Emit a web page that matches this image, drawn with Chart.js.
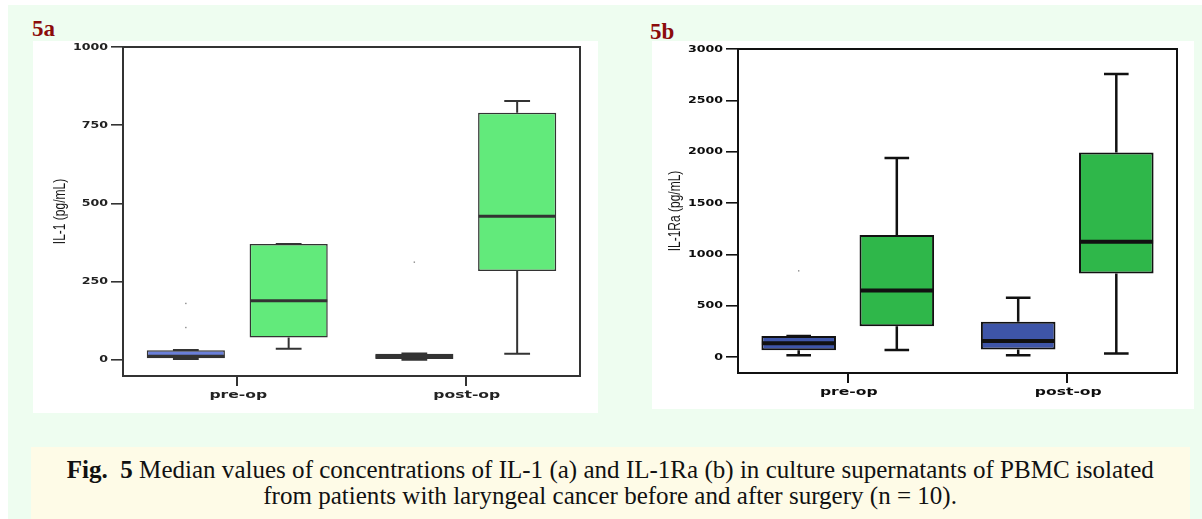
<!DOCTYPE html>
<html>
<head>
<meta charset="utf-8">
<script src="https://cdn.jsdelivr.net/npm/chart.js@4.4.1/dist/chart.umd.min.js"></script>
<style>
  html, body { margin: 0; padding: 0; width: 1202px; height: 519px; overflow: hidden; background: #ffffff; }
  #sheet { position: absolute; left: 8px; top: 5px; width: 1194px; height: 514px; background: #eefdf0; }
  .panel { position: absolute; background: #ffffff; }
  #panelA { left: 33px; top: 41px; width: 565px; height: 372px; }
  #panelB { left: 652px; top: 41px; width: 542px; height: 368px; }
  .tag { position: absolute; font: bold 23px/23px "Liberation Serif", "Times New Roman", serif; color: #8b0b0b; }
  #caption { position: absolute; left: 31px; top: 447px; width: 1159px; height: 72px; background: #fefbe7; }
  .capline { position: absolute; left: 0; width: 1159px; text-align: center; white-space: nowrap;
             font: 26px/26px "Liberation Serif", "Times New Roman", serif; color: #111; }
  .capline span.inner { display: inline-block; transform-origin: 50% 50%; }
</style>
</head>
<body>
<div id="sheet"></div>
<div class="tag" style="left:32px;top:17px;">5a</div>
<div class="tag" style="left:650px;top:20px;">5b</div>
<div id="panelA" class="panel"><canvas id="chartA" width="565" height="372"></canvas></div>
<div id="panelB" class="panel"><canvas id="chartB" width="542" height="368"></canvas></div>
<div id="caption">
  <div class="capline" style="top:10px;"><span class="inner"><b>Fig.&nbsp; 5</b> Median values of concentrations of IL-1 (a) and IL-1Ra (b) in culture supernatants of PBMC isolated</span></div>
  <div class="capline" style="top:36px;"><span class="inner">from patients with laryngeal cancer before and after surgery (n = 10).</span></div>
</div>
<script>
// Categories shared by both panels
const categories = ['pre-op', 'post-op'];

// Panel a: IL-1 (pg/mL), five-number summaries per category
const il1BlueMin    = [2, 0];
const il1BlueQ1     = [5, 2];
const il1BlueMedian = [11, 10];
const il1BlueQ3     = [30, 19];
const il1BlueMax    = [31, 20];
const il1BlueOutliers = [[103, 180], [312]];

const il1GreenMin    = [35, 19];
const il1GreenQ1     = [71, 284];
const il1GreenMedian = [189, 459];
const il1GreenQ3     = [370, 790];
const il1GreenMax    = [370, 827];
const il1GreenOutliers = [[], []];

const il1Ticks = [0, 250, 500, 750, 1000];

// Panel b: IL-1Ra (pg/mL)
const il1raBlueMin    = [17, 17];
const il1raBlueQ1     = [65, 72];
const il1raBlueMedian = [134, 156];
const il1raBlueQ3     = [205, 342];
const il1raBlueMax    = [205, 576];
const il1raBlueOutliers = [[839], []];

const il1raGreenMin    = [68, 33];
const il1raGreenQ1     = [300, 814];
const il1raGreenMedian = [648, 1122];
const il1raGreenQ3     = [1188, 1991];
const il1raGreenMax    = [1939, 2756];
const il1raGreenOutliers = [[], []];

const il1raTicks = [0, 500, 1000, 1500, 2000, 2500, 3000];

// Whiskers, caps, medians and outlier dots drawn on top of the floating bars
const boxExtras = {
  id: 'boxExtras',
  afterDatasetsDraw(chart, args, opts) {
    const { ctx } = chart;
    const y = chart.scales.y;
    ctx.save();
    chart.data.datasets.forEach((ds, di) => {
      const meta = chart.getDatasetMeta(di);
      const s = ds.summary;
      meta.data.forEach((bar, i) => {
        const { x, width } = bar.getProps(['x', 'width'], true);
        const half = width / 2;
        const cap = width * opts.capRatio / 2;
        const yMin = y.getPixelForValue(s.min[i]);
        const yQ1 = y.getPixelForValue(s.q1[i]);
        const yQ3 = y.getPixelForValue(s.q3[i]);
        const yMax = y.getPixelForValue(s.max[i]);
        const yMed = y.getPixelForValue(s.median[i]);
        ctx.strokeStyle = opts.lineColor;
        ctx.lineWidth = opts.whiskerWidth;
        ctx.lineCap = 'butt';
        ctx.beginPath();
        ctx.moveTo(x, yQ3); ctx.lineTo(x, yMax);
        ctx.moveTo(x, yQ1); ctx.lineTo(x, yMin);
        ctx.moveTo(x - cap, yMax); ctx.lineTo(x + cap, yMax);
        ctx.moveTo(x - cap, yMin); ctx.lineTo(x + cap, yMin);
        ctx.stroke();
        ctx.lineWidth = opts.medianWidth;
        ctx.strokeStyle = opts.medianColor;
        ctx.beginPath();
        ctx.moveTo(x - half + 0.5, yMed); ctx.lineTo(x + half - 0.5, yMed);
        ctx.stroke();
        ctx.fillStyle = opts.dotColor;
        s.outliers[i].forEach(v => {
          const py = y.getPixelForValue(v);
          ctx.fillRect(x - 0.7, py - 0.7, 1.4, 1.4);
        });
      });
    });
    ctx.restore();
  }
};

// Closed frame round the plot area
const frame = {
  id: 'frame',
  afterDraw(chart, args, opts) {
    const { ctx, chartArea: a } = chart;
    ctx.save();
    ctx.strokeStyle = opts.color;
    ctx.lineWidth = opts.width;
    ctx.strokeRect(a.left, a.top, a.right - a.left, a.bottom - a.top);
    ctx.restore();
  }
};

// Axis labels in a wide bold face, placed from the scales' own tick positions
const axisText = {
  id: 'axisText',
  afterDraw(chart, args, o) {
    const { ctx, chartArea: a } = chart;
    const { x, y } = chart.scales;
    ctx.save();
    ctx.fillStyle = o.color;
    ctx.font = `bold ${o.tickSize}px "DejaVu Sans"`;
    ctx.textAlign = 'right';
    ctx.textBaseline = 'middle';
    y.ticks.forEach((t, i) => {
      ctx.save();
      ctx.translate(a.left - 15, y.getPixelForTick(i) + 0.5);
      ctx.scale(o.stretch, 1);
      ctx.fillText(String(t.value), 0, 0);
      ctx.restore();
    });
    ctx.font = `bold ${o.catSize}px "DejaVu Sans"`;
    ctx.textAlign = 'center';
    ctx.textBaseline = 'alphabetic';
    x.ticks.forEach((t, i) => {
      ctx.save();
      ctx.translate(x.getPixelForTick(i) + 1, a.bottom + 21.5);
      ctx.scale(o.catStretch, 1);
      ctx.fillText(chart.data.labels[i], 0, 0);
      ctx.restore();
    });
    ctx.font = `${o.titleSize}px "Liberation Sans", Arial, sans-serif`;
    ctx.fillStyle = o.titleColor;
    ctx.textBaseline = 'middle';
    ctx.save();
    ctx.translate(a.left - 63, (a.top + a.bottom) / 2);
    ctx.scale(o.titleStretch, 1);
    ctx.rotate(-Math.PI / 2);
    ctx.fillText(o.title, 0, 0);
    ctx.restore();
    ctx.restore();
  }
};

function summaryOf(min, q1, median, q3, max, outliers) {
  return { min, q1, median, q3, max, outliers };
}

function buildChart(id, p) {
  const datasets = p.series.map(s => ({
    data: categories.map((_, i) => [s.summary.q1[i], s.summary.q3[i]]),
    summary: s.summary,
    backgroundColor: s.fill,
    borderColor: p.line,
    borderWidth: p.boxBorder,
    borderSkipped: false,
    categoryPercentage: p.catPct,
    barPercentage: 0.76
  }));
  return new Chart(document.getElementById(id), {
    type: 'bar',
    data: { labels: categories, datasets },
    plugins: [boxExtras, frame, axisText],
    options: {
      responsive: false,
      animation: false,
      events: [],
      layout: { padding: p.padding },
      plugins: {
        legend: { display: false },
        tooltip: { enabled: false },
        boxExtras: { capRatio: 0.33, lineColor: p.line, whiskerWidth: p.whisker, medianWidth: p.median, medianColor: p.line, dotColor: '#8a8a8a' },
        frame: { color: p.line, width: 2 },
        axisText: { color: p.text, tickSize: 8.3, stretch: 1.52, catSize: 10.4, catStretch: 1.5,
                    titleSize: 12, titleStretch: 1.4, titleColor: '#151515', title: p.title }
      },
      scales: {
        x: {
          type: 'category',
          offset: true,
          grid: { display: true, offset: false, drawOnChartArea: false, drawTicks: true, tickLength: 10, lineWidth: 2, color: p.line },
          border: { display: false },
          ticks: { display: false },
          afterFit: s => { s.height = p.xHeight; }
        },
        y: {
          type: 'linear',
          min: p.min,
          max: p.max,
          afterBuildTicks: s => { s.ticks = p.ticks.map(v => ({ value: v })); },
          grid: { display: true, drawOnChartArea: false, drawTicks: true, tickLength: 12, lineWidth: 1.6, color: p.line },
          border: { display: false },
          ticks: { display: false },
          afterFit: s => { s.width = p.yWidth; }
        }
      }
    }
  });
}

buildChart('chartA', {
  title: 'IL-1 (pg/mL)',
  min: -52, max: 1000, ticks: il1Ticks,
  padding: { top: 6, right: 18, left: 0, bottom: 0 },
  yWidth: 90, xHeight: 37, catPct: 0.9,
  line: '#333333', text: '#222222', boxBorder: 1.5, whisker: 2, median: 3,
  series: [
    { fill: '#6a7fd9', summary: summaryOf(il1BlueMin, il1BlueQ1, il1BlueMedian, il1BlueQ3, il1BlueMax, il1BlueOutliers) },
    { fill: '#62ea7b', summary: summaryOf(il1GreenMin, il1GreenQ1, il1GreenMedian, il1GreenQ3, il1GreenMax, il1GreenOutliers) }
  ]
});

buildChart('chartB', {
  title: 'IL-1Ra (pg/mL)',
  min: -156, max: 3000, ticks: il1raTicks,
  padding: { top: 8, right: 17, left: 0, bottom: 0 },
  yWidth: 86, xHeight: 36, catPct: 0.894,
  line: '#111111', text: '#0d0d0d', boxBorder: 2, whisker: 2.5, median: 4,
  series: [
    { fill: '#3e55a8', summary: summaryOf(il1raBlueMin, il1raBlueQ1, il1raBlueMedian, il1raBlueQ3, il1raBlueMax, il1raBlueOutliers) },
    { fill: '#2fb74a', summary: summaryOf(il1raGreenMin, il1raGreenQ1, il1raGreenMedian, il1raGreenQ3, il1raGreenMax, il1raGreenOutliers) }
  ]
});

// Condense the caption lines so the first line fills its measure
const lines = document.querySelectorAll('.capline span.inner');
const sx = 1087 / lines[0].getBoundingClientRect().width;
lines.forEach(el => { el.style.transform = `scaleX(${sx})`; });
</script>
</body>
</html>
